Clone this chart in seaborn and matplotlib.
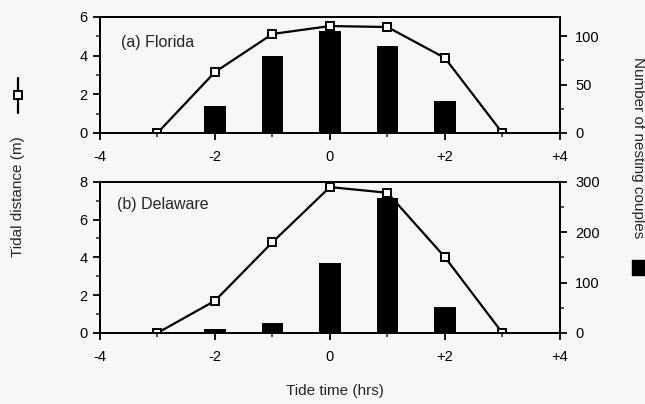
import matplotlib
matplotlib.use("Agg")
import matplotlib.pyplot as plt
from matplotlib.lines import Line2D
from matplotlib.patches import Rectangle
from matplotlib.ticker import MultipleLocator
import numpy as np
import pandas as pd
import seaborn as sns

# ---- data ----
tide_times = [-3, -2, -1, 0, 1, 2, 3]
florida_distance = [0.0, 3.15, 5.12, 5.53, 5.48, 3.88, 0.0]
delaware_distance = [0.0, 1.7, 4.8, 7.72, 7.42, 4.01, 0.0]

bar_times = [-2, -1, 0, 1, 2]
florida_couples = [28, 80, 105, 90, 33]
delaware_couples = [7, 19, 139, 267, 51]

x_tick_vals = [-4, -2, 0, 2, 4]
x_tick_labels = ["-4", "-2", "0", "+2", "+4"]

panel_titles = ["(a) Florida", "(b) Delaware"]

sns.set_style("ticks")
plt.rcParams['font.family'] = ['Liberation Sans', 'DejaVu Sans']
plt.rcParams['font.size'] = 10.5

bg = "#f8f7f8"
fig = plt.figure(figsize=(6.45, 4.04), dpi=100, facecolor=bg)

ax_top = fig.add_axes([0.155, 0.671, 0.713, 0.287])
ax_bot = fig.add_axes([0.155, 0.176, 0.713, 0.374])

configs = [
    (ax_top, florida_distance, florida_couples, (0, 6), 2, 1, (0, 120), [0, 50, 100], 25,
     panel_titles[0], (121, 43)),
    (ax_bot, delaware_distance, delaware_couples, (0, 8), 2, 1, (0, 300), [0, 100, 200, 300], 50,
     panel_titles[1], (117, 205)),
]

for ax, dist, couples, ylim, ymaj, ymin, ylim2, yt2, ymin2, title, tpos in configs:
    ax2 = ax.twinx()
    bdf = pd.DataFrame({"t": bar_times, "n": couples})
    sns.barplot(data=bdf, x="t", y="n", ax=ax2, native_scale=True, width=0.37,
                color="black", linewidth=0, saturation=1)
    ldf = pd.DataFrame({"t": tide_times, "d": dist})
    sns.lineplot(data=ldf, x="t", y="d", ax=ax, color="black", linewidth=1.6,
                 marker="s", markersize=5.5, markerfacecolor="white",
                 markeredgecolor="black", markeredgewidth=1.4)
    ax.set_zorder(ax2.get_zorder() + 1)
    ax.patch.set_visible(False)
    ax2.patch.set_facecolor(bg)

    for a in (ax, ax2):
        a.set_xlim(-4, 4)
        a.set_xlabel("")
        a.set_ylabel("")
        for s in a.spines.values():
            s.set_linewidth(1.4)
            s.set_color("black")
            s.set_visible(True)
    ax.set_ylim(*ylim)
    ax.yaxis.set_major_locator(MultipleLocator(ymaj))
    ax.yaxis.set_minor_locator(MultipleLocator(ymin))
    ax.set_xticks(x_tick_vals)
    ax.set_xticklabels(x_tick_labels)
    ax.xaxis.set_minor_locator(MultipleLocator(1))
    ax.tick_params(axis="both", which="major", direction="out", length=5, width=1.3,
                   labelsize=10.5, colors="black", pad=4)
    ax.tick_params(axis="both", which="minor", direction="out", length=3, width=1.1)
    ax.tick_params(axis="x", pad=7)

    ax2.set_ylim(*ylim2)
    ax2.set_yticks(yt2)
    ax2.yaxis.set_minor_locator(MultipleLocator(ymin2))
    ax2.tick_params(axis="y", which="major", direction="out", length=5, width=1.3,
                    labelsize=10.5, colors="black", pad=6)
    ax2.tick_params(axis="y", which="minor", direction="out", length=3, width=1.1)
    ax2.tick_params(axis="x", which="both", bottom=False, labelbottom=False)

    fig.text(tpos[0] / 645, 1 - tpos[1] / 404, title, fontsize=11.5, ha="left", va="center")

# axis labels
fig.text(18 / 645, 1 - 197 / 404, "Tidal distance (m)", rotation=90, ha="center", va="center", fontsize=11)
fig.text(638 / 645, 1 - 148 / 404, "Number of nesting couples", rotation=-90, ha="center", va="center", fontsize=11)
fig.text(335 / 645, 1 - 391 / 404, "Tide time (hrs)", ha="center", va="center", fontsize=11)

# legend-like symbols
fig.add_artist(Line2D([18 / 645, 18 / 645], [1 - 78 / 404, 1 - 113 / 404], color="black", linewidth=1.6,
                      transform=fig.transFigure))
fig.add_artist(Line2D([18 / 645], [1 - 95 / 404], marker="s", markersize=5.5, markerfacecolor="white",
                      markeredgecolor="black", markeredgewidth=1.4, linestyle="none",
                      transform=fig.transFigure))
fig.add_artist(Rectangle((632 / 645, 1 - 275 / 404), 14 / 645, 15 / 404, color="black",
                         transform=fig.transFigure))

fig.savefig("out.png", dpi=100, facecolor=bg)
